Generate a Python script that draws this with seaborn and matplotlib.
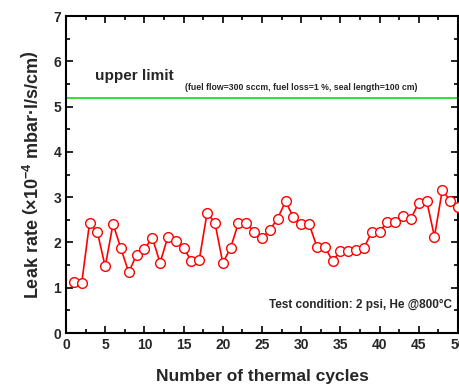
import matplotlib
matplotlib.use("Agg")
import matplotlib.pyplot as plt
import seaborn as sns
import pandas as pd
from matplotlib.ticker import MultipleLocator

cycles = list(range(1, 51))
leak_rate = [1.12, 1.10, 2.43, 2.23, 1.47, 2.41, 1.87, 1.34, 1.73, 1.85,
             2.11, 1.55, 2.13, 2.04, 1.88, 1.59, 1.62, 2.66, 2.43, 1.55,
             1.88, 2.44, 2.44, 2.23, 2.10, 2.28, 2.53, 2.91, 2.56, 2.40,
             2.41, 1.91, 1.91, 1.59, 1.82, 1.82, 1.84, 1.88, 2.23, 2.24,
             2.46, 2.46, 2.58, 2.53, 2.88, 2.92, 2.13, 3.16, 2.92, 2.78]
upper_limit = 5.2

sns.set_theme(style="ticks")
plt.rcParams['font.family'] = ['Liberation Sans', 'DejaVu Sans']
plt.rcParams['font.weight'] = 'bold'
plt.rcParams['mathtext.fontset'] = 'custom'
plt.rcParams['mathtext.rm'] = 'Liberation Sans:bold'
plt.rcParams['mathtext.default'] = 'rm'

df = pd.DataFrame({"cycle": cycles, "leak": leak_rate})

fig = plt.figure(figsize=(4.59, 3.85), dpi=100)
ax = fig.add_axes([0.1438, 0.135, 0.854, 0.823])

ax.axhline(upper_limit, color="#22dd22", lw=1.3, zorder=1)
sns.lineplot(data=df, x="cycle", y="leak", ax=ax, color="red", lw=1.2,
             marker="o", markersize=7, markerfacecolor="white",
             markeredgecolor="red", markeredgewidth=1.0, zorder=3)

ax.set_xlim(0, 50)
ax.set_ylim(0, 7)
ax.xaxis.set_major_locator(MultipleLocator(5))
ax.xaxis.set_minor_locator(MultipleLocator(2.5))
ax.yaxis.set_major_locator(MultipleLocator(1))
ax.yaxis.set_minor_locator(MultipleLocator(0.5))
ax.tick_params(which="both", direction="in", top=True, right=True,
               labelsize=10, width=1.2, color="black")
ax.tick_params(which="major", length=5)
ax.tick_params(which="minor", length=3)
for lab in ax.get_xticklabels() + ax.get_yticklabels():
    lab.set_fontweight("bold")
for s in ax.spines.values():
    s.set_linewidth(1.5)
    s.set_color("black")

ax.set_xlabel("Number of thermal cycles", fontsize=12.5, fontweight="bold", labelpad=12)
ax.set_ylabel(r"Leak rate $\left(\times10^{-4}\right.$ mbar·l/s/cm$\left.\right)$",
              fontsize=13, fontweight="bold", labelpad=8)

ax.text(3.7, 5.58, "upper limit", fontsize=11, fontweight="bold", va="baseline")
ax.text(15.2, 5.36, "(fuel flow=300 sccm, fuel loss=1 %, seal length=100 cm)",
        fontsize=6.3, fontweight="bold", va="baseline")
ax.text(49.2, 0.56, "Test condition: 2 psi, He @800°C", fontsize=8.5,
        fontweight="bold", ha="right", va="baseline")

fig.savefig("out.png", dpi=100)
